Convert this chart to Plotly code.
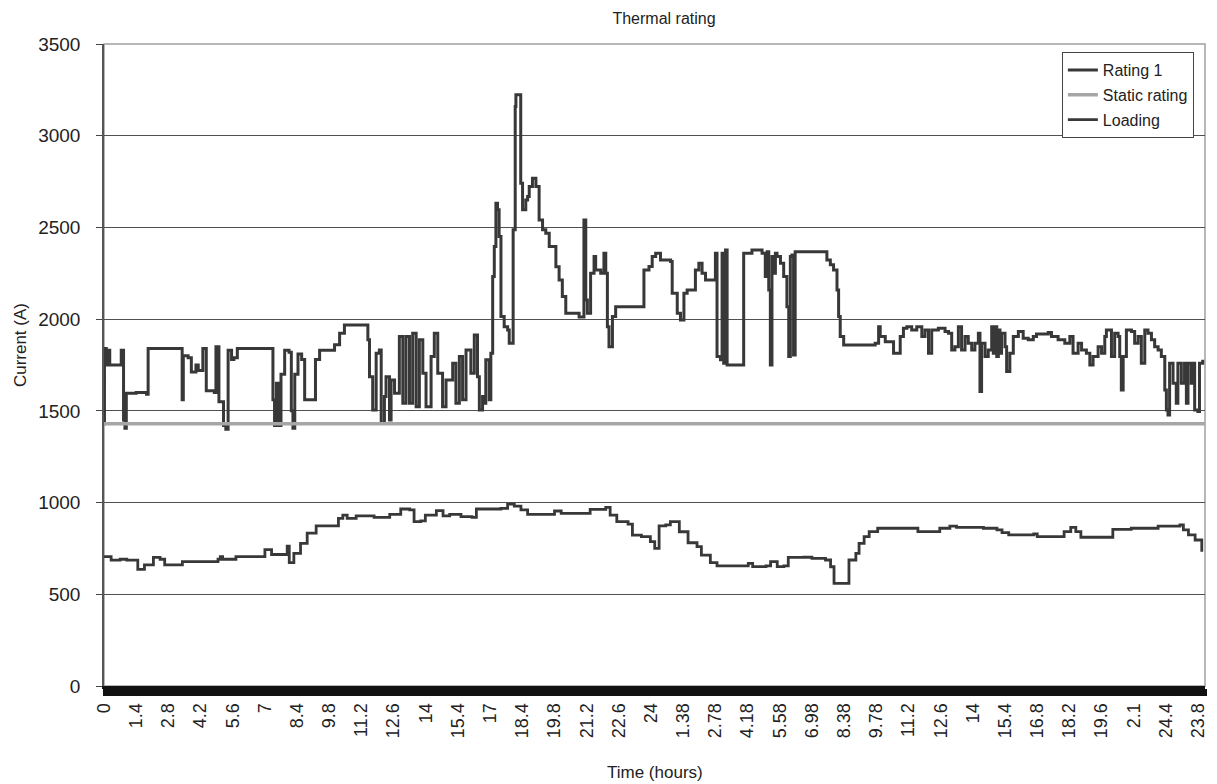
import plotly.graph_objects as go

# time in hours since start of the record, current in amps
rating_hours = [
    0.00, 0.02, 0.10, 0.18, 0.25, 0.65, 0.75, 0.85, 0.91, 0.97, 1.40, 1.85, 1.92, 3.35, 3.40, 3.45,
    3.66, 3.80, 4.00, 4.10, 4.30, 4.45, 4.80, 4.87, 5.00, 5.20, 5.30, 5.40, 5.55, 5.65, 5.80, 7.28,
    7.35, 7.42, 7.50, 7.57, 7.70, 7.86, 8.05, 8.15, 8.22, 8.30, 8.44, 8.60, 8.73, 9.09, 9.20, 9.38,
    10.03, 10.25, 10.46, 11.40, 11.48, 11.55, 11.69, 11.84, 11.98, 12.06, 12.20, 12.27, 12.42, 12.49,
    12.64, 12.85, 13.00, 13.14, 13.29, 13.43, 13.58, 13.72, 13.87, 14.01, 14.23, 14.37, 14.52, 14.73,
    14.88, 15.17, 15.31, 15.46, 15.60, 15.75, 15.96, 16.11, 16.25, 16.33, 16.47, 16.54, 16.61, 16.76,
    16.83, 16.91, 16.98, 17.05, 17.12, 17.19, 17.27, 17.41, 17.56, 17.63, 17.77, 17.80, 17.89, 17.92,
    18.10, 18.13, 18.21, 18.35, 18.43, 18.50, 18.64, 18.79, 18.93, 19.08, 19.22, 19.37, 19.66, 19.80,
    19.94, 20.09, 20.67, 20.81, 20.88, 20.96, 21.03, 21.17, 21.32, 21.39, 21.61, 21.75, 21.83, 21.90,
    21.97, 22.12, 22.26, 23.42, 23.49, 23.71, 23.85, 24.00, 24.21, 24.65, 24.72, 24.94, 25.08, 25.23,
    25.37, 25.59, 25.73, 25.88, 26.02, 26.17, 26.46, 26.60, 26.67, 26.82, 26.89, 26.96, 27.04, 27.11,
    27.76, 27.83, 28.05, 28.19, 28.48, 28.63, 28.77, 28.85, 28.92, 28.99, 29.06, 29.14, 29.21, 29.28,
    29.43, 29.57, 29.71, 29.79, 29.86, 29.93, 30.00, 30.07, 31.31, 31.45, 31.60, 31.74, 31.89, 31.96,
    32.03, 32.18, 33.55, 33.70, 33.77, 33.99, 34.20, 34.35, 34.49, 34.64, 34.78, 34.93, 35.14, 35.36,
    35.58, 35.72, 35.87, 36.01, 36.30, 36.59, 36.74, 36.88, 37.02, 37.17, 37.31, 37.46, 37.60, 37.75,
    37.89, 38.04, 38.11, 38.18, 38.33, 38.47, 38.62, 38.69, 38.76, 38.84, 38.91, 38.98, 39.05, 39.20,
    39.27, 39.41, 39.56, 39.78, 39.99, 40.21, 40.43, 40.57, 41.08, 41.22, 41.51, 41.80, 42.02, 42.16,
    42.38, 42.53, 42.74, 42.89, 43.03, 43.25, 43.40, 43.54, 43.61, 43.76, 43.83, 43.97, 44.12, 44.19,
    44.26, 44.34, 44.48, 44.70, 44.84, 44.99, 45.13, 45.28, 45.42, 45.57, 45.71, 45.86, 46.00, 46.15,
    46.22, 46.29, 46.36, 46.51, 46.65, 46.72, 46.87, 47.01, 47.09, 47.16, 47.30, 47.38, 47.45, 47.59,
    47.66, 47.80,
]
rating_amps = [
    1430, 1840, 1750, 1830, 1750, 1750, 1830, 1450, 1405, 1596, 1600, 1590, 1840, 1840, 1560, 1800,
    1790, 1712, 1750, 1720, 1840, 1610, 1600, 1850, 1550, 1420, 1400, 1830, 1780, 1790, 1840, 1840,
    1560, 1420, 1650, 1420, 1700, 1830, 1820, 1500, 1405, 1700, 1810, 1780, 1560, 1560, 1780, 1830,
    1860, 1923, 1968, 1968, 1887, 1686, 1505, 1814, 1832, 1432, 1578, 1686, 1450, 1668,
    1596, 1905, 1541, 1905, 1541, 1923, 1523, 1887, 1705, 1523, 1796, 1923, 1705, 1523,
    1668, 1760, 1541, 1796, 1560, 1832, 1705, 1914, 1686, 1505, 1578, 1541, 1778, 1560,
    1814, 2232, 2396, 2632, 2596, 2450, 2014, 1959, 1941, 1869, 1869, 2487, 3159, 3223,
    3223, 2741, 2596, 2650, 2668, 2723, 2768, 2723, 2541, 2487, 2468, 2396, 2285, 2214,
    2123, 2032, 2012, 2012, 2541, 2105, 2032, 2250, 2341, 2268, 2250, 2359, 2250, 1959,
    1850, 2014, 2068, 2068, 2268, 2287, 2341, 2359, 2323, 2314, 2141, 2032, 1996, 2141,
    2159, 2159, 2268, 2305, 2250, 2214, 2214, 2359, 1796, 1778, 2359, 1760, 2377, 1750,
    1750, 2359, 2359, 2377, 2377, 2359, 2232, 2368, 2159, 1750, 2341, 2250, 2359, 2341,
    2305, 2232, 2068, 1796, 2341, 2350, 1805, 2368, 2368, 2323, 2296, 2268, 2159, 2014,
    1905, 1859, 1868, 1959, 1905, 1877, 1877, 1814, 1814, 1905, 1950, 1959, 1941, 1959,
    1905, 1941, 1814, 1941, 1950, 1932, 1923, 1832, 1850, 1959, 1832, 1905, 1868, 1832,
    1868, 1923, 1605, 1868, 1796, 1832, 1959, 1814, 1959, 1796, 1941, 1814, 1923, 1850,
    1714, 1814, 1905, 1932, 1896, 1887, 1905, 1919, 1927, 1905, 1887, 1868, 1905, 1814,
    1868, 1832, 1814, 1750, 1796, 1850, 1814, 1905, 1941, 1941, 1796, 1923, 1905, 1796,
    1614, 1796, 1941, 1932, 1868, 1905, 1760, 1941, 1923, 1887, 1850, 1832, 1796, 1614,
    1505, 1478, 1760, 1650, 1541, 1760, 1650, 1760, 1541, 1760, 1650, 1760, 1505, 1496,
    1760, 1778,
]

static_hours = [0.0, 47.9]
static_amps = [1430, 1430]

loading_hours = [
    0.00, 0.31, 0.70, 0.99, 1.47, 1.76, 2.15, 2.44, 2.64, 3.12, 3.41, 4.96, 5.06, 5.16, 5.64, 5.74,
    6.51, 7.00, 7.29, 7.87, 7.97, 8.06, 8.26, 8.55, 8.84, 9.23, 10.00, 10.20, 10.39, 10.58, 10.97,
    11.75, 12.43, 12.91, 13.30, 13.49, 13.78, 13.98, 14.46, 14.75, 15.04, 15.53, 16.01, 16.20, 17.27,
    17.56, 17.85, 18.14, 18.43, 19.40, 19.60, 19.89, 21.05, 21.15, 21.83, 22.02, 22.31, 22.80, 22.99,
    23.38, 23.77, 23.96, 24.15, 24.44, 24.64, 25.03, 25.41, 25.80, 25.99, 26.38, 26.67, 27.93, 28.03,
    28.22, 28.80, 29.00, 29.29, 29.58, 29.77, 30.22, 30.44, 30.80, 31.39, 31.61, 31.76, 32.27, 32.41,
    32.71, 32.85, 33.07, 33.29, 33.66, 35.26, 35.41, 36.21, 36.36, 36.80, 37.09, 38.26, 38.85, 39.07,
    39.36, 40.45, 40.60, 41.48, 41.77, 42.06, 42.28, 42.50, 43.67, 43.89, 44.69, 45.86, 46.81, 46.96,
    47.18, 47.47, 47.76,
]
loading_amps = [
    705, 686, 691, 686, 636, 660, 701, 691, 660, 660, 678, 691, 705, 691, 691, 705,
    705, 744, 717, 717, 763, 673, 723, 778, 833, 873, 873, 914, 932, 914, 928,
    919, 936, 965, 960, 896, 900, 932, 956, 928, 936, 923, 919, 965, 968,
    992, 981, 960, 936, 936, 954, 941, 941, 963, 974, 932, 896, 883, 823,
    814, 787, 750, 873, 878, 896, 841, 781, 760, 714, 673, 655, 655, 669,
    651, 655, 678, 651, 655, 701, 701, 702, 696, 687, 650, 560, 560, 687,
    723, 778, 814, 842, 860, 860, 842, 842, 860, 872, 865, 860, 851, 836,
    824, 829, 814, 814, 842, 865, 842, 811, 811, 854, 860, 872, 878, 851,
    824, 796, 732,
]

tick_labels = [
    "0", "1.4", "2.8", "4.2", "5.6", "7", "8.4", "9.8", "11.2", "12.6", "14", "15.4", "17",
    "18.4", "19.8", "21.2", "22.6", "24", "1.38", "2.78", "4.18", "5.58", "6.98", "8.38",
    "9.78", "11.2", "12.6", "14", "15.4", "16.8", "18.2", "19.6", "2.1", "24.4", "23.8",
]
tick_step = 1.4

font = "Liberation Sans, Arial, sans-serif"

fig = go.Figure()
fig.add_trace(go.Scatter(x=rating_hours, y=rating_amps, mode="lines", name="Rating 1",
                         legendgroup="a", line=dict(color="#383838", width=3, shape="hv")))
fig.add_trace(go.Scatter(x=static_hours, y=static_amps, mode="lines", name="Static rating",
                         legendgroup="b", line=dict(color="#a6a6a6", width=3.5)))
fig.add_trace(go.Scatter(x=loading_hours, y=loading_amps, mode="lines", name="Loading",
                         legendgroup="c", line=dict(color="#383838", width=2.8, shape="hv")))

# the page body adds an 8px margin, so the figure is offset by 8px
fig.update_layout(
    width=1209, height=776,
    margin=dict(l=96, r=12, t=36, b=98),
    paper_bgcolor="white", plot_bgcolor="white",
    font=dict(family=font, size=18, color="#222"),
    title=dict(text="Thermal rating", x=0.5426, xanchor="center", y=0.987, yanchor="middle",
               font=dict(size=16, color="#222")),
    showlegend=True,
    legend=dict(x=0.87, y=0.9875, xanchor="left", yanchor="top", bgcolor="white",
                bordercolor="#444", borderwidth=1, font=dict(size=16, color="#222"),
                tracegroupgap=1, itemwidth=30),
    shapes=[dict(type="rect", xref="paper", yref="paper", x0=0, y0=0, x1=1, y1=1,
                 line=dict(color="#a0a0a0", width=1.5), layer="below")],
    annotations=[
        dict(text="Current (A)", xref="paper", yref="paper", x=-0.0763, y=0.531,
             xanchor="center", yanchor="middle",
             textangle=-90, showarrow=False, font=dict(size=17)),
        dict(text="Time (hours)", xref="paper", yref="paper", x=0.5, y=-0.1355,
             xanchor="center", yanchor="middle",
             showarrow=False, font=dict(size=17)),
    ],
)
fig.update_xaxes(
    range=[0, 47.9], automargin=False,
    tickmode="array",
    tickvals=[i * tick_step for i in range(len(tick_labels))],
    ticktext=tick_labels,
    tickangle=-90,
    ticks="outside", ticklen=7, tickwidth=2, tickcolor="#111",
    minor=dict(ticks="outside", tick0=0, dtick=0.1, ticklen=7, tickwidth=3, tickcolor="#111"),
    showgrid=False, zeroline=False,
    showline=True, linecolor="#111", linewidth=3,
)
fig.update_yaxes(
    range=[0, 3500], dtick=500, automargin=False,
    ticks="outside", ticklen=6, tickcolor="#444", ticklabelstandoff=12,
    tickfont=dict(size=19),
    showgrid=True, gridcolor="#505050", gridwidth=1,
    zeroline=False, showline=True, linecolor="#555", linewidth=1.5,
)

fig.write_html("out.html")
